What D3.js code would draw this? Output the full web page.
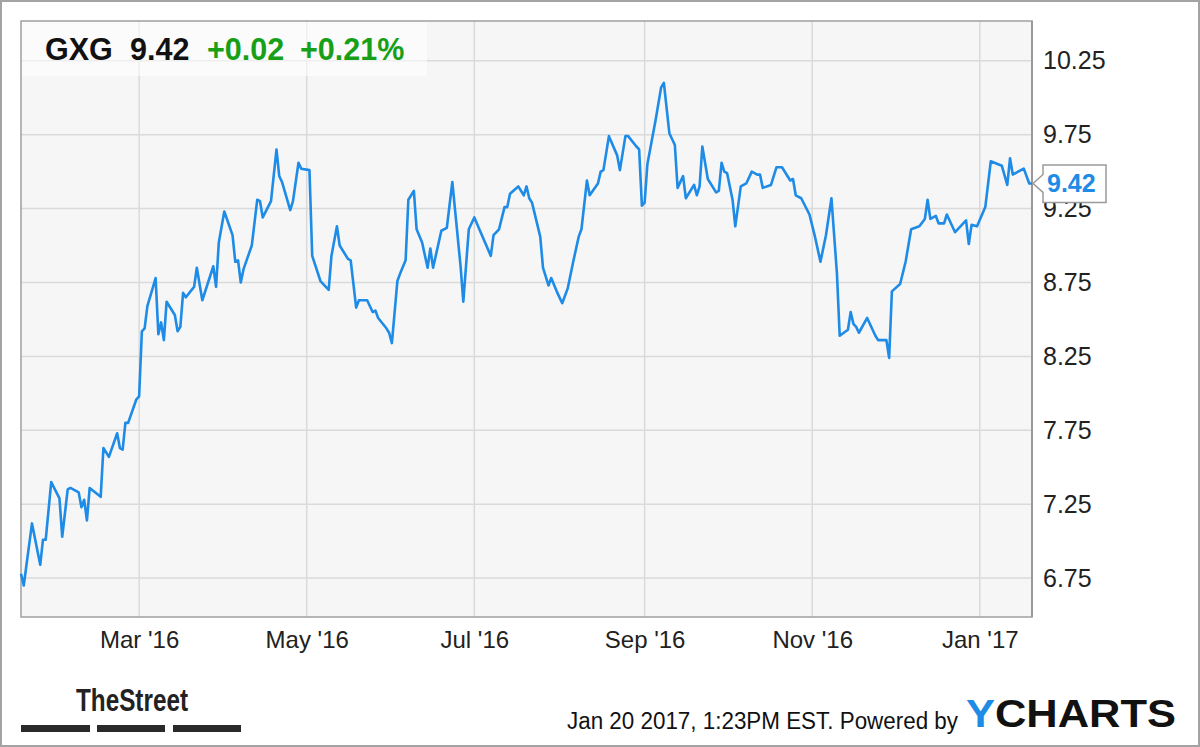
<!DOCTYPE html>
<html>
<head>
<meta charset="utf-8">
<script src="https://cdn.jsdelivr.net/npm/d3@7"></script>
<style>
  html, body { margin: 0; padding: 0; background: #fff; }
  svg { display: block; font-family: "Liberation Sans", Arial, sans-serif; }
</style>
</head>
<body>
<svg id="chart" width="1200" height="747"></svg>
<script>
// ---- data ----
const dates = [
  "2016-01-18","2016-01-19","2016-01-22","2016-01-25","2016-01-26","2016-01-27","2016-01-29",
  "2016-02-01","2016-02-02","2016-02-04","2016-02-05","2016-02-08","2016-02-09","2016-02-10","2016-02-11","2016-02-12",
  "2016-02-16","2016-02-17","2016-02-19","2016-02-22","2016-02-23","2016-02-24","2016-02-25","2016-02-26","2016-02-29",
  "2016-03-01","2016-03-02","2016-03-03","2016-03-04","2016-03-07","2016-03-08","2016-03-09","2016-03-10","2016-03-11",
  "2016-03-14","2016-03-15","2016-03-16","2016-03-17","2016-03-18","2016-03-21","2016-03-22","2016-03-24","2016-03-28",
  "2016-03-29","2016-03-30","2016-04-01","2016-04-04","2016-04-05","2016-04-06","2016-04-07","2016-04-08","2016-04-11",
  "2016-04-13","2016-04-14","2016-04-15","2016-04-18","2016-04-20","2016-04-21","2016-04-22","2016-04-25","2016-04-26",
  "2016-04-28","2016-04-29","2016-05-02","2016-05-03","2016-05-06","2016-05-09","2016-05-10","2016-05-12","2016-05-13",
  "2016-05-16","2016-05-17","2016-05-19","2016-05-20","2016-05-23","2016-05-25","2016-05-26","2016-05-27","2016-05-30",
  "2016-05-31","2016-06-01","2016-06-03","2016-06-04","2016-06-06","2016-06-07","2016-06-09","2016-06-10","2016-06-12",
  "2016-06-14","2016-06-15","2016-06-16","2016-06-19","2016-06-21","2016-06-23","2016-06-26","2016-06-27","2016-06-29",
  "2016-07-01","2016-07-07","2016-07-08","2016-07-10","2016-07-12","2016-07-13","2016-07-14","2016-07-17","2016-07-19",
  "2016-07-20","2016-07-21","2016-07-22","2016-07-25","2016-07-26","2016-07-28","2016-07-29","2016-07-31","2016-08-02",
  "2016-08-04","2016-08-06","2016-08-08","2016-08-09","2016-08-11","2016-08-12","2016-08-15","2016-08-16","2016-08-17",
  "2016-08-19","2016-08-22","2016-08-23","2016-08-25","2016-08-26","2016-08-29","2016-08-30","2016-08-31","2016-09-01",
  "2016-09-02","2016-09-05","2016-09-07","2016-09-08","2016-09-10","2016-09-12","2016-09-13","2016-09-15","2016-09-16",
  "2016-09-19","2016-09-20","2016-09-21","2016-09-22","2016-09-24","2016-09-27","2016-09-28","2016-09-29","2016-09-30",
  "2016-10-01","2016-10-03","2016-10-04","2016-10-06","2016-10-08","2016-10-10","2016-10-12","2016-10-13","2016-10-14",
  "2016-10-17","2016-10-19","2016-10-21","2016-10-24","2016-10-25","2016-10-26","2016-10-28","2016-10-31","2016-11-02",
  "2016-11-04","2016-11-06","2016-11-08","2016-11-10","2016-11-11","2016-11-14","2016-11-15","2016-11-16","2016-11-17",
  "2016-11-18","2016-11-21","2016-11-24","2016-11-25","2016-11-28","2016-11-29","2016-11-30","2016-12-03","2016-12-05",
  "2016-12-07","2016-12-10","2016-12-12","2016-12-13","2016-12-14","2016-12-16","2016-12-17","2016-12-19","2016-12-20",
  "2016-12-23","2016-12-27","2016-12-28","2016-12-29","2016-12-31","2017-01-03","2017-01-05","2017-01-09","2017-01-11",
  "2017-01-12","2017-01-13","2017-01-17","2017-01-19","2017-01-20"
];
const prices = [
  6.78,6.70,7.12,6.84,7.01,7.01,7.40,
  7.29,7.03,7.35,7.36,7.33,7.23,7.28,7.14,7.36,
  7.30,7.63,7.57,7.73,7.63,7.62,7.80,7.80,7.96,
  7.98,8.42,8.44,8.59,8.78,8.40,8.48,8.36,8.62,
  8.53,8.42,8.45,8.68,8.65,8.72,8.85,8.63,8.86,
  8.72,9.02,9.23,9.07,8.89,8.90,8.75,8.84,9.00,
  9.31,9.30,9.19,9.30,9.65,9.47,9.43,9.24,9.30,
  9.56,9.52,9.51,8.93,8.76,8.70,8.93,9.13,9.00,
  8.91,8.90,8.58,8.63,8.63,8.55,8.56,8.51,8.44,
  8.41,8.34,8.76,8.81,8.90,9.31,9.37,9.11,9.02,
  8.85,8.98,8.85,9.10,9.12,9.43,8.86,8.62,9.11,
  9.19,8.93,9.07,9.11,9.26,9.26,9.35,9.40,9.34,
  9.40,9.32,9.29,9.06,8.85,8.73,8.78,8.69,8.61,
  8.71,8.89,9.06,9.11,9.44,9.34,9.42,9.50,9.51,
  9.74,9.61,9.51,9.74,9.74,9.67,9.65,9.27,9.29,
  9.55,9.85,10.07,10.10,9.76,9.68,9.39,9.47,9.32,
  9.41,9.34,9.40,9.67,9.45,9.36,9.37,9.56,9.50,
  9.49,9.31,9.13,9.40,9.42,9.50,9.48,9.48,9.39,
  9.41,9.53,9.53,9.44,9.45,9.34,9.32,9.21,9.06,
  8.89,9.07,9.32,8.81,8.39,8.43,8.55,8.47,8.45,
  8.41,8.51,8.39,8.36,8.36,8.24,8.69,8.74,8.89,
  9.11,9.13,9.18,9.31,9.18,9.20,9.15,9.15,9.21,
  9.09,9.17,9.01,9.14,9.13,9.26,9.57,9.54,9.41,
  9.59,9.48,9.52,9.42,9.42
];
const yTickValues = [6.75, 7.25, 7.75, 8.25, 8.75, 9.25, 9.75, 10.25];
const xTickDates = ["2016-03-01","2016-05-01","2016-07-01","2016-09-01","2016-11-01","2017-01-01"];
const ticker = "GXG";
const lastPrice = "9.42";
const change = "+0.02";
const changePct = "+0.21%";
const footerText = "Jan 20 2017, 1:23PM EST.  Powered by";

// ---- setup ----
const parse = d3.timeParse("%Y-%m-%d");
const data = dates.map((d, i) => ({ date: parse(d), value: prices[i] }));

const svg = d3.select("#chart");
const W = 1200, H = 747;
const plot = { left: 21, top: 21, right: 1032, bottom: 617 };

const x = d3.scaleTime()
  .domain([parse("2016-01-18"), parse("2017-01-20")])
  .range([plot.left, plot.right]);
const y = d3.scaleLinear()
  .domain([6.487, 10.519])
  .range([plot.bottom, plot.top]);

// outer frame
svg.append("rect")
  .attr("x", 1).attr("y", 1).attr("width", W - 2).attr("height", H - 2)
  .attr("fill", "#fff").attr("stroke", "#a3a3a3").attr("stroke-width", 2);

// plot background
svg.append("rect")
  .attr("x", plot.left).attr("y", plot.top)
  .attr("width", plot.right - plot.left).attr("height", plot.bottom - plot.top)
  .attr("fill", "#f6f6f6");

// gridlines
const grid = svg.append("g").attr("stroke", "#dadada").attr("stroke-width", 1.5);
grid.selectAll("line.h").data(yTickValues).join("line")
  .attr("class", "h")
  .attr("x1", plot.left).attr("x2", plot.right)
  .attr("y1", d => y(d)).attr("y2", d => y(d));
grid.selectAll("line.v").data(xTickDates.map(parse)).join("line")
  .attr("class", "v")
  .attr("x1", d => x(d)).attr("x2", d => x(d))
  .attr("y1", plot.top).attr("y2", plot.bottom);

// plot border
svg.append("rect")
  .attr("x", plot.left).attr("y", plot.top)
  .attr("width", plot.right - plot.left).attr("height", plot.bottom - plot.top)
  .attr("fill", "none").attr("stroke", "#a0a0a0").attr("stroke-width", 1.5);
svg.append("line")
  .attr("x1", plot.right).attr("x2", plot.right)
  .attr("y1", plot.top).attr("y2", plot.bottom)
  .attr("stroke", "#999").attr("stroke-width", 2);

// line
const line = d3.line().x(d => x(d.date)).y(d => y(d.value));
svg.append("path")
  .datum(data)
  .attr("d", line)
  .attr("fill", "none")
  .attr("stroke", "#1e8be6")
  .attr("stroke-width", 2.6)
  .attr("stroke-linejoin", "round");

// header box
svg.append("rect")
  .attr("x", plot.left + 1).attr("y", plot.top + 1)
  .attr("width", 405).attr("height", 54)
  .attr("fill", "#fff").attr("opacity", 0.55);
const headerItems = [
  { t: ticker, x: 45, c: "#111" },
  { t: lastPrice, x: 130, c: "#111" },
  { t: change, x: 207, c: "#17a017" },
  { t: changePct, x: 300, c: "#17a017" }
];
svg.selectAll("text.hdr").data(headerItems).join("text")
  .attr("class", "hdr")
  .attr("x", d => d.x).attr("y", 60)
  .attr("font-size", 30.5).attr("font-weight", "bold")
  .attr("fill", d => d.c)
  .text(d => d.t);

// y axis
const yAxis = d3.axisRight(y).tickValues(yTickValues).tickFormat(d3.format(".2f")).tickSize(0).tickPadding(11);
const gy = svg.append("g").attr("transform", `translate(${plot.right},0)`).call(yAxis);
gy.select(".domain").remove();
gy.selectAll("text")
  .attr("font-family", "Liberation Sans, Arial, sans-serif")
  .attr("font-size", 25).attr("fill", "#222");

// x axis
const xAxis = d3.axisBottom(x).tickValues(xTickDates.map(parse))
  .tickFormat(d3.timeFormat("%b '%y")).tickSize(0).tickPadding(14);
const gx = svg.append("g").attr("transform", `translate(0,${plot.bottom})`).call(xAxis);
gx.select(".domain").remove();
gx.selectAll("text")
  .attr("font-family", "Liberation Sans, Arial, sans-serif")
  .attr("font-size", 24).attr("fill", "#222");

// last value callout
const yLast = y(prices[prices.length - 1]);
const cb = svg.append("g");
cb.append("path")
  .attr("d", `M${plot.right + 1},${yLast} L${plot.right + 11},${yLast - 9} L${plot.right + 11},${yLast - 18.5} L${plot.right + 74},${yLast - 18.5} L${plot.right + 74},${yLast + 19} L${plot.right + 11},${yLast + 19} L${plot.right + 11},${yLast + 9} Z`)
  .attr("fill", "#fff").attr("stroke", "#9a9a9a").attr("stroke-width", 1.5);
cb.append("text")
  .attr("x", plot.right + 15).attr("y", yLast + 9)
  .attr("font-size", 25).attr("font-weight", "bold").attr("fill", "#1e8be6")
  .text(lastPrice);

// TheStreet logo
svg.append("text")
  .attr("x", 76).attr("y", 711)
  .attr("font-size", 32).attr("font-weight", "bold").attr("fill", "#222")
  .attr("textLength", 112).attr("lengthAdjust", "spacingAndGlyphs")
  .text("TheStreet");
[[21, 90], [97, 165], [173, 241]].forEach(([a, b]) => {
  svg.append("rect").attr("x", a).attr("y", 725).attr("width", b - a).attr("height", 7).attr("fill", "#2a2a2a");
});

// footer
svg.append("text")
  .attr("x", 567).attr("y", 729)
  .attr("font-size", 23).attr("fill", "#111")
  .attr("textLength", 391).attr("lengthAdjust", "spacingAndGlyphs")
  .text(footerText);
const yc = svg.append("text")
  .attr("x", 966).attr("y", 727)
  .attr("font-size", 38).attr("font-weight", "bold")
  .attr("textLength", 210).attr("lengthAdjust", "spacingAndGlyphs");
yc.append("tspan").attr("fill", "#1e8be6").text("Y");
yc.append("tspan").attr("fill", "#111").text("CHARTS");
</script>
</body>
</html>
